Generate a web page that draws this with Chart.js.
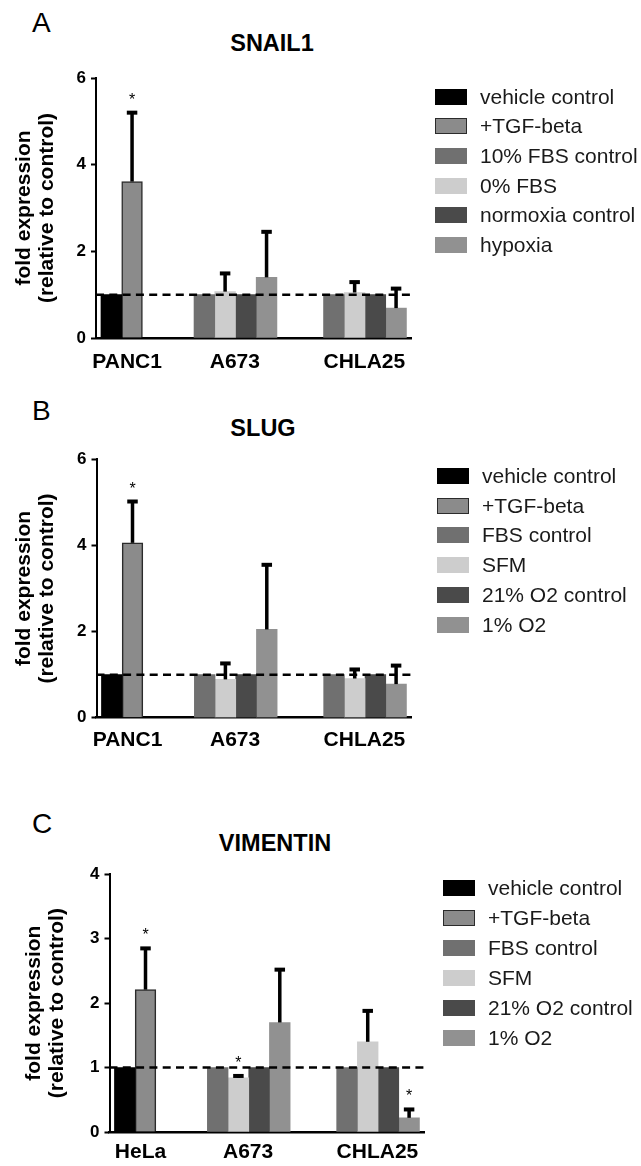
<!DOCTYPE html>
<html>
<head>
<meta charset="utf-8">
<title>SNAIL1, SLUG and VIMENTIN expression</title>
<script src="https://cdn.jsdelivr.net/npm/chart.js@4.4.1/dist/chart.umd.min.js"></script>
<style>
  body { margin: 0; background: #fff; font-family: "Liberation Sans", Arial, sans-serif; }
  #page { position: relative; width: 641px; height: 1166px; overflow: hidden; }
  #page canvas { position: absolute; left: 0; }
  .letter { position: absolute; left: 32px; font-size: 28px; line-height: 1; color: #000; }
  .gene { position: absolute; font-size: 23.5px; font-weight: bold; line-height: 1; color: #000;
          transform: translateX(-50%); white-space: nowrap; }
  .legend { position: absolute; list-style: none; margin: 0; padding: 0; font-size: 21px; color: #1a1a1a; }
  .legend li { display: flex; align-items: center; white-space: nowrap; }
  .legend .box { display: inline-block; width: 32px; height: 16px; box-sizing: border-box; margin-right: 13px; }
</style>
</head>
<body>
<div id="page">
  <div class="letter" style="top:9px">A</div>
  <div class="gene" style="left:272px; top:32px">SNAIL1</div>
  <canvas id="chart-a" width="641" height="380" style="top:0"></canvas>
  <ul class="legend" id="legend-a" style="left:435px; top:82px"></ul>

  <div class="letter" style="top:397px">B</div>
  <div class="gene" style="left:263px; top:417px">SLUG</div>
  <canvas id="chart-b" width="641" height="390" style="top:380px"></canvas>
  <ul class="legend" id="legend-b" style="left:437px; top:461px"></ul>

  <div class="letter" style="top:810px">C</div>
  <div class="gene" style="left:275px; top:832px">VIMENTIN</div>
  <canvas id="chart-c" width="641" height="396" style="top:770px"></canvas>
  <ul class="legend" id="legend-c" style="left:443px; top:873px"></ul>
</div>

<script>
// ---- data (rows = conditions, columns = cell lines, null = not tested) ----

// A: SNAIL1
const snailCells = ["PANC1", "A673", "CHLA25"];
const snailConditions = ["vehicle control", "+TGF-beta", "10% FBS control", "0% FBS", "normoxia control", "hypoxia"];
const snailMean = [
  [1.00, null, null],
  [3.61, null, null],
  [null, 1.00, 1.00],
  [null, 1.07, 1.05],
  [null, 1.00, 1.00],
  [null, 1.40, 0.69],
];
const snailSem = [
  [null, null, null],
  [1.59, null, null],
  [null, null, null],
  [null, 0.42, 0.24],
  [null, null, null],
  [null, 1.05, 0.45],
];
const snailStars = [[1, 0]]; // [condition, cell line]

// B: SLUG
const slugCells = ["PANC1", "A673", "CHLA25"];
const slugConditions = ["vehicle control", "+TGF-beta", "FBS control", "SFM", "21% O2 control", "1% O2"];
const slugMean = [
  [1.00, null, null],
  [4.06, null, null],
  [null, 1.00, 1.00],
  [null, 0.89, 0.91],
  [null, 1.00, 1.00],
  [null, 2.05, 0.78],
];
const slugSem = [
  [null, null, null],
  [0.96, null, null],
  [null, null, null],
  [null, 0.37, 0.21],
  [null, null, null],
  [null, 1.50, 0.43],
];
const slugStars = [[1, 0]];

// C: VIMENTIN
const vimCells = ["HeLa", "A673", "CHLA25"];
const vimConditions = ["vehicle control", "+TGF-beta", "FBS control", "SFM", "21% O2 control", "1% O2"];
const vimMean = [
  [1.00, null, null],
  [2.21, null, null],
  [null, 1.00, 1.00],
  [null, 0.84, 1.40],
  [null, 1.00, 1.00],
  [null, 1.70, 0.22],
];
const vimSem = [
  [null, null, null],
  [0.64, null, null],
  [null, null, null],
  [null, 0.03, 0.48],
  [null, null, null],
  [null, 0.82, 0.13],
];
const vimStars = [[1, 0], [3, 1], [5, 2]];

// ---- look ----

const barColors = ["#000000", "#8b8b8b", "#707070", "#cdcdcd", "#4a4a4a", "#919191"];
const barBorders = [0, 1.5, 0, 0, 0, 0];
const fontFamily = "'Liberation Sans', Arial, sans-serif";

// x axis is measured in bar widths
const groupStart = [0.24, 4.73, 10.98];
const labelAt = [1.5, 6.7, 12.95];
const xMax = 15.2;

function buildDatasets(conditions, mean, sem, stars) {
  return conditions.map((label, k) => {
    const points = [];
    mean[k].forEach((value, g) => {
      if (value === null) return;
      // slot inside the group = number of earlier conditions tested on this cell line
      let slot = 0;
      for (let i = 0; i < k; i++) {
        if (mean[i][g] !== null) slot++;
      }
      points.push({
        x: groupStart[g] + slot + 0.5,
        y: value,
        sem: sem[k][g],
        star: stars.some(([c, cell]) => c === k && cell === g),
      });
    });
    return {
      label: label,
      data: points,
      backgroundColor: barColors[k],
      borderColor: barBorders[k] ? "#2b2b2b" : barColors[k],
      borderWidth: barBorders[k],
    };
  });
}

// error bars, the dashed line at 1 and the asterisks
const errorBars = {
  id: "errorBars",
  afterDatasetsDraw(chart) {
    const { ctx, chartArea, scales } = chart;
    const y = scales.y;
    ctx.save();

    const one = y.getPixelForValue(1);
    ctx.strokeStyle = "#000";
    ctx.lineWidth = 2.5;
    ctx.setLineDash([8, 5.3]);
    ctx.beginPath();
    ctx.moveTo(chartArea.left, one);
    ctx.lineTo(chartArea.right, one);
    ctx.stroke();
    ctx.setLineDash([]);

    ctx.fillStyle = "#000";
    ctx.font = "16px " + fontFamily;
    ctx.textAlign = "center";
    ctx.textBaseline = "alphabetic";
    chart.data.datasets.forEach((ds, i) => {
      const meta = chart.getDatasetMeta(i);
      ds.data.forEach((pt, j) => {
        const bar = meta.data[j];
        const top = y.getPixelForValue(pt.y + (pt.sem || 0));
        if (pt.sem) {
          ctx.fillRect(bar.x - 1.75, top, 3.5, bar.y - top);
          ctx.fillRect(bar.x - 5.25, top - 2, 10.5, 4);
        }
        if (pt.star) {
          ctx.fillText("*", bar.x, top - 8);
        }
      });
    });
    ctx.restore();
  },
};

function buildLegend(listId, chart, rowHeight) {
  const list = document.getElementById(listId);
  chart.data.datasets.forEach((ds) => {
    const li = document.createElement("li");
    li.style.height = rowHeight + "px";
    const box = document.createElement("span");
    box.className = "box";
    box.style.background = ds.backgroundColor;
    if (ds.borderWidth) box.style.border = ds.borderWidth + "px solid " + ds.borderColor;
    li.appendChild(box);
    li.appendChild(document.createTextNode(ds.label));
    list.appendChild(li);
  });
}

function makeChart(canvasId, cells, datasets, panel) {
  return new Chart(document.getElementById(canvasId), {
    type: "bar",
    data: { datasets: datasets },
    options: {
      responsive: false,
      animation: false,
      layout: { padding: panel.padding },
      datasets: {
        bar: { grouped: false, barPercentage: 1, categoryPercentage: 1 },
      },
      scales: {
        x: {
          type: "linear",
          min: 0,
          max: xMax,
          bounds: "data",
          offset: false,
          z: 1,
          grid: { display: false, drawTicks: false },
          border: { color: "#000", width: 2.5 },
          afterBuildTicks: (axis) => {
            axis.ticks = labelAt.map((v) => ({ value: v }));
          },
          afterFit: (axis) => {
            axis.height = 30;
          },
          ticks: {
            autoSkip: false,
            maxRotation: 0,
            padding: panel.labelPad,
            color: "#000",
            font: { family: fontFamily, size: 21, weight: "bold" },
            callback: (value, index) => cells[index],
          },
        },
        y: {
          min: 0,
          max: panel.yMax,
          ticks: {
            stepSize: panel.yStep,
            padding: 5,
            color: "#000",
            font: { family: fontFamily, size: 17, weight: "bold" },
          },
          grid: { drawOnChartArea: false, tickLength: 5, tickWidth: 2, tickColor: "#000" },
          border: { color: "#000", width: 2 },
          title: {
            display: true,
            text: ["fold expression", "(relative to control)"],
            color: "#000",
            padding: 0,
            font: { family: fontFamily, size: 21, weight: "bold", lineHeight: 1.1 },
          },
          afterFit: (axis) => {
            axis.width = panel.yWidth;
          },
        },
      },
      plugins: {
        legend: { display: false },
        tooltip: { enabled: false },
      },
    },
    plugins: [errorBars],
  });
}

// Panel A
const chartA = makeChart("chart-a", snailCells,
  buildDatasets(snailConditions, snailMean, snailSem, snailStars),
  { padding: { top: 78, bottom: 12, left: 13, right: 230 }, yWidth: 83, yMax: 6, yStep: 2, labelPad: 12 });
buildLegend("legend-a", chartA, 29.6);

// Panel B
const chartB = makeChart("chart-b", slugCells,
  buildDatasets(slugConditions, slugMean, slugSem, slugStars),
  { padding: { top: 79.3, bottom: 22.3, left: 13, right: 230 }, yWidth: 83.5, yMax: 6, yStep: 2, labelPad: 9.5 });
buildLegend("legend-b", chartB, 29.8);

// Panel C
const chartC = makeChart("chart-c", vimCells,
  buildDatasets(vimConditions, vimMean, vimSem, vimStars),
  { padding: { top: 104.3, bottom: 4, left: 22.5, right: 217 }, yWidth: 87, yMax: 4, yStep: 1, labelPad: 8 });
buildLegend("legend-c", chartC, 30);
</script>
</body>
</html>
